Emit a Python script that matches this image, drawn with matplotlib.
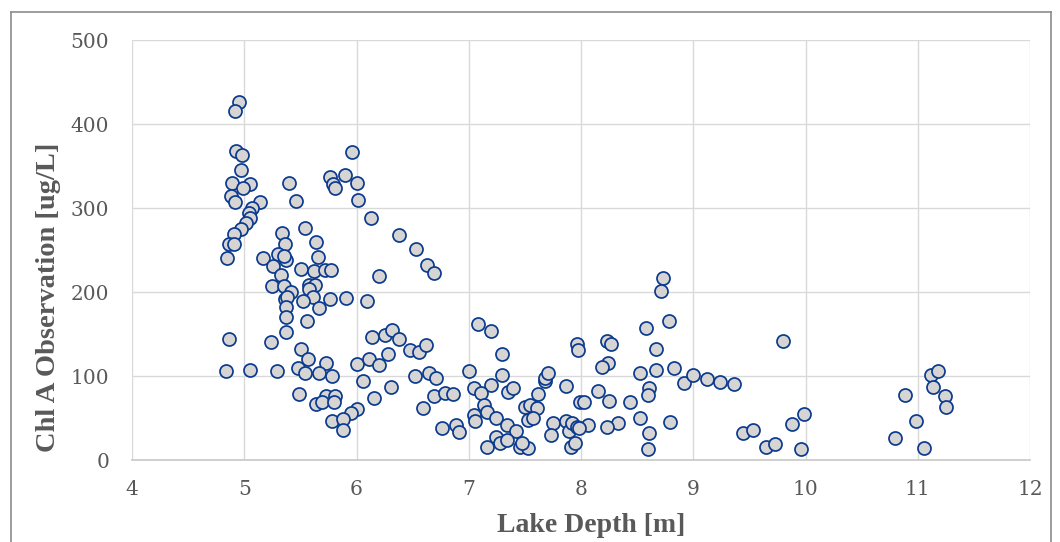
import matplotlib.pyplot as plt
from matplotlib.lines import Line2D

# lake depth [m] and chl a [ug/L]
depth = [4.95, 4.92, 4.93, 4.98, 4.97, 4.89, 5.05, 4.99, 4.88, 4.92, 5.14, 5.07, 5.04, 5.05, 5.02, 4.97,
         4.91, 4.86, 4.91, 4.85, 5.40, 5.46, 5.96, 5.76, 5.90, 5.79, 5.81, 6.00, 6.01, 6.13, 6.38, 5.34,
         5.54, 5.36, 5.64, 5.17, 5.30, 5.26, 5.37, 5.35, 5.51, 5.62, 5.66, 5.72, 5.77, 6.20, 5.33,
         5.25, 5.35, 5.42, 5.58, 5.63, 5.58, 5.61, 5.36, 5.38, 5.37, 5.52, 5.76, 5.91, 6.09, 5.67, 5.37,
         5.56, 5.37, 4.86, 5.24, 5.51, 5.57, 5.48, 5.54, 5.73, 5.67, 5.78, 4.84, 5.05, 5.29, 6.00, 6.11,
         6.20, 6.28, 6.14, 6.25, 6.32, 6.38, 6.06, 6.31, 5.49, 5.73, 5.81, 5.64, 5.69, 5.80, 6.16, 6.00,
         5.95, 5.78, 5.88, 5.88,
         6.53, 6.63, 6.69, 6.48, 6.56, 6.62, 6.52, 6.65, 6.71, 6.59, 6.69, 6.79, 6.86, 6.76, 6.89, 6.91,
         7.00, 7.08, 7.20, 7.30, 7.30, 7.20, 7.05, 7.11, 7.14, 7.35, 7.39, 7.05, 7.06, 7.16, 7.24, 7.34,
         7.42, 7.24, 7.28, 7.34, 7.16, 7.46, 7.53, 7.47, 7.50, 7.55, 7.61, 7.53, 7.57, 7.62, 7.68, 7.68,
         7.71, 7.87, 7.75, 7.73, 7.87, 7.89, 7.92, 7.96, 7.91, 7.96, 7.97, 7.99,
         8.73, 8.71, 8.78, 8.58, 8.67, 8.23, 8.27, 8.24, 8.19, 8.53, 8.67, 8.83, 8.92, 9.00, 9.12, 9.24,
         9.36, 8.61, 8.60, 8.15, 8.25, 8.03, 8.44, 8.53, 8.79, 8.33, 8.23, 8.06, 7.98, 7.95, 8.61, 8.60,
         9.44, 9.53,
         9.80, 9.65, 9.73, 9.88, 9.99, 9.96, 10.80, 10.89, 10.98, 11.06, 11.12, 11.18, 11.14, 11.24, 11.25]
chla = [426, 416, 368, 363, 346, 330, 329, 324, 315, 307, 307, 300, 294, 288, 282, 275,
        270, 257, 258, 241, 330, 309, 367, 337, 340, 329, 324, 330, 310, 289, 268, 271,
        277, 257, 260, 241, 246, 231, 238, 243, 228, 225, 242, 227, 226, 219, 221,
        208, 208, 200, 209, 209, 204, 195, 192, 195, 183, 190, 192, 193, 190, 181, 171,
        166, 153, 144, 141, 132, 121, 110, 104, 116, 104, 100, 106, 108, 106, 115, 121,
        113, 126, 147, 149, 155, 145, 94, 87, 79, 77, 77, 67, 70, 70, 74, 61,
        56, 47, 49, 36,
        251, 232, 223, 131, 129, 137, 100, 104, 98, 62, 76, 80, 79, 38, 42, 34,
        106, 162, 154, 127, 102, 90, 86, 80, 66, 81, 86, 54, 47, 57, 50, 42,
        35, 28, 21, 24, 16, 16, 15, 21, 63, 66, 62, 48, 50, 79, 94, 98,
        104, 88, 44, 30, 47, 35, 44, 40, 16, 139, 131, 70,
        217, 202, 166, 158, 132, 142, 139, 116, 111, 104, 107, 110, 92, 102, 97, 93,
        91, 86, 78, 82, 71, 69, 69, 50, 46, 45, 40, 42, 38, 21, 32, 13,
        33, 36,
        142, 16, 20, 43, 55, 14, 27, 78, 47, 15, 101, 106, 87, 77, 64]

x_ticks = [4, 5, 6, 7, 8, 9, 10, 11, 12]
y_ticks = [0, 100, 200, 300, 400, 500]

fig = plt.figure(figsize=(10.6, 5.42), dpi=100)
ax = fig.add_axes([132/1060, 1 - 460.3/542, 898/1060, 420/542])

ax.scatter(depth, chla, s=88, facecolor='#d6d5d3', edgecolor='#0a3a8f', linewidth=1.25, zorder=3, clip_on=False)

ax.set_xlim(4, 12)
ax.set_ylim(0, 500)
ax.set_xticks(x_ticks)
ax.set_yticks(y_ticks)
ax.grid(True, color='#d9d9d9', linewidth=1.0)
ax.set_axisbelow(True)
for side in ['top', 'right', 'left']:
    ax.spines[side].set_visible(False)
ax.spines['bottom'].set_color('#c8c8c8')
ax.spines['bottom'].set_linewidth(1.2)

for lab in ax.get_xticklabels() + ax.get_yticklabels():
    lab.set_family('DejaVu Serif')
ax.tick_params(axis='both', length=0, labelsize=14.5, labelcolor='#595959')
ax.tick_params(axis='x', pad=14)
ax.tick_params(axis='y', pad=16.5)

fig.text(591/1060, 1 - 526/542, 'Lake Depth [m]', family='Liberation Serif', weight='bold',
         fontsize=20, color='#595959', ha='center', va='center')
fig.text(48.5/1060, 1 - 297/542, 'Chl A Observation [ug/L]', family='Liberation Serif', weight='bold',
         fontsize=20.5, color='#595959', ha='center', va='center', rotation=90)

# outer chart border
fx0, fx1, fy1 = 11/1060, 1051/1060, 1 - 12/542
for xs, ys in [([fx0, fx0], [0, fy1]), ([fx0, fx1], [fy1, fy1]), ([fx1, fx1], [0, fy1])]:
    fig.add_artist(Line2D(xs, ys, transform=fig.transFigure, color='#8c8c8c', linewidth=1.2))

fig.savefig('out.png', dpi=100)
